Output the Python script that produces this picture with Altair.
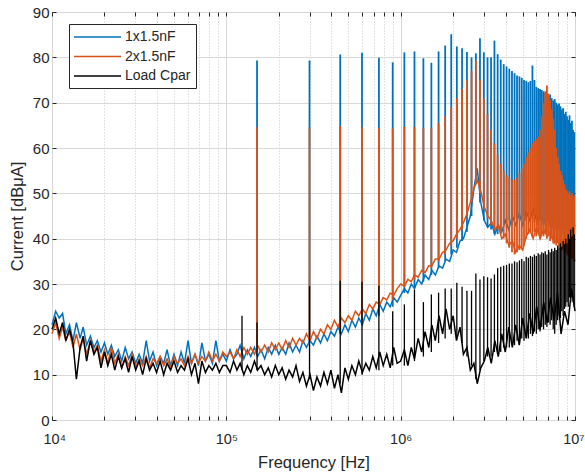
import altair as alt
import pandas as pd

SERIES = ["1x1.5nF", "2x1.5nF", "Load Cpar"]
COLORS = ["#0072BD", "#D95319", "#000000"]

# broadband floor, sampled on a log grid (kHz)
FREQ_KHZ = [10, 10.5, 11, 11.5, 12, 12.6, 13.2, 13.8, 14.5, 15.1,
            15.8, 16.6, 17.4, 18.2, 19.1, 20, 20.9, 21.9, 22.9, 24,
            25.1, 26.3, 27.5, 28.8, 30.2, 31.6, 33.1, 34.7, 36.3, 38,
            39.8, 41.7, 43.7, 45.7, 47.9, 50.1, 52.5, 55, 57.5, 60.3,
            63.1, 66.1, 69.2, 72.4, 75.9, 79.4, 83.2, 87.1, 91.2, 95.5,
            100, 105, 110, 115, 120, 126, 132, 138, 145, 151,
            158, 166, 174, 182, 191, 200, 209, 219, 229, 240,
            251, 263, 275, 288, 302, 316, 331, 347, 363, 380,
            398, 417, 437, 457, 479, 501, 525, 550, 575, 603,
            631, 661, 692, 724, 759, 794, 832, 871, 912, 955,
            1000, 1050, 1100, 1150, 1200, 1260, 1320, 1380, 1450, 1510,
            1580, 1660, 1740, 1820, 1910, 2000, 2090, 2190, 2290, 2400,
            2510, 2630, 2750, 2880, 3020, 3160, 3310, 3470, 3630, 3800,
            3980, 4170, 4370, 4570, 4790, 5010, 5250, 5500, 5750, 6030,
            6310, 6610, 6920, 7240, 7590, 7940, 8320, 8710, 9120, 9550,
            10000]

BLUE = [21, 24, 22.5, 23.5, 19, 21, 17.5, 21.5, 18, 20.5,
        16.5, 18.5, 16, 17.5, 15, 17, 14.5, 16.5, 14, 15.5,
        13, 16, 13.5, 15, 12.5, 14.5, 12.5, 17.5, 13, 15,
        12, 14, 12.5, 15.5, 12, 14.5, 12, 15, 12.5, 17.5,
        12.5, 14.5, 12, 17, 13, 14.5, 12.5, 17.5, 13, 14.5,
        13, 15.5, 13.5, 14.5, 16.5, 13.5, 15.5, 14, 16, 14,
        15.5, 13.5, 16, 14.5, 16.5, 14.5, 16, 14.5, 17, 15,
        16.5, 15, 17.5, 16, 17.5, 16.5, 18.5, 17, 19, 17.5,
        19.5, 18.5, 20.5, 19, 21, 19.5, 22, 20.5, 22.5, 21,
        23.5, 22, 24.5, 23, 25.5, 24, 26, 25, 27, 26,
        27.5, 29, 28, 30, 29, 31, 30, 32, 31, 33,
        32, 34, 33.5, 35.5, 35, 37.5, 37, 39.5, 40, 42.5,
        45, 51, 55.5, 48, 44, 42.5, 43.5, 41, 43, 41.5,
        44, 42, 45, 43, 45.5, 43, 46, 44, 46.5, 44,
        46, 43.5, 45.5, 43, 45, 42.5, 44.5, 42, 44, 41.5,
        43]

ORANGE = [19, 21.5, 18, 20.5, 17.5, 19.5, 16, 19, 15.5, 18,
          14.5, 17.5, 15, 16.5, 13, 15.5, 12.5, 16, 12.5, 14.5,
          11.5, 14, 12, 14.5, 11.5, 13.5, 12, 14, 11.5, 13.5,
          12.5, 14, 12, 13.5, 11.5, 14, 12.5, 13.5, 12, 14,
          12.5, 14.5, 12.5, 14, 13, 15, 13, 14.5, 13, 15,
          14, 15, 13.5, 15.5, 14, 16, 14.5, 16, 14.5, 16.5,
          15, 16.5, 15, 17, 15.5, 17, 15.5, 17.5, 16, 18,
          16.5, 18, 17, 19, 17.5, 19.5, 18, 20, 19, 21,
          20, 22, 20.5, 22.5, 21.5, 23, 22, 24, 23, 24.5,
          23.5, 25.5, 24.5, 26, 25.5, 27, 26.5, 28, 27.5, 29,
          30, 29.5, 31, 30.5, 32, 31.5, 33, 32.5, 34, 34,
          35.5, 35.5, 37, 37.5, 39, 39.5, 41, 42, 43.5, 45.5,
          48, 51, 53, 50.5, 47, 45, 44, 42, 43, 40,
          41, 38.5, 39.5, 37, 38.5, 37.5, 40.5, 42, 40, 42.5,
          40, 42, 40.5, 41.5, 39, 40, 37.5, 38.5, 36.5, 37.5,
          35]

BLACK = [20, 22.5, 19, 21.5, 17.5, 20, 17, 9, 16, 18.5,
         13, 17.5, 14.5, 16, 11.5, 15, 12, 14.5, 11, 14,
         11.5, 13.5, 10.5, 14, 11, 13, 10, 13.5, 11, 12.5,
         10.5, 13, 10, 12.5, 11, 13, 10.5, 12, 11, 13.5,
         10, 12.5, 8, 13, 10.5, 12, 11, 12.5, 10.5, 12,
         12, 10.5, 13, 11, 12.5, 10, 12, 10.5, 13, 11,
         12, 10, 11.5, 9.5, 12, 10, 11.5, 9, 11, 9.5,
         12, 8.5, 10.5, 7.5, 10, 6.5, 9.5, 7.5, 10.5, 8,
         11, 7, 10, 6, 11.5, 9, 12, 10, 13, 10.5,
         12.5, 11, 14, 11.5, 15, 12, 14.5, 11.5, 16, 12.5,
         13, 15.5, 12, 16, 13.5, 18, 15, 19.5, 16, 21,
         17.5, 23, 19, 24.5, 20, 23, 17.5, 20.5, 14.5, 16,
         11, 12.5, 8, 11.5, 13, 16, 12.5, 17.5, 14, 19,
         15, 20.5, 16, 21, 16.5, 22.5, 18, 23.5, 19, 25,
         20, 26, 21.5, 27, 22, 28, 19, 24, 21, 29,
         24]

# switching harmonics (kHz)
HARM_KHZ = [150, 300, 450, 600, 750, 900, 1050, 1200, 1350, 1500,
            1650, 1800, 1950, 2100, 2250, 2400, 2550, 2700, 2850, 3000,
            3150, 3300, 3450, 3600, 3750, 3900, 4050, 4200, 4350, 4500,
            4650, 4800, 4950, 5100, 5250, 5400, 5550, 5700, 5850, 6000,
            6150, 6300, 6450, 6600, 6750, 6900, 7050, 7200, 7350, 7500,
            7650, 7800, 7950, 8100, 8250, 8400, 8550, 8700, 8850, 9000,
            9150, 9300, 9450, 9600, 9750, 9900]

BLUE_PEAK = [79.3, 79.3, 80.6, 81.0, 79.9, 78.9, 81.1, 81.3, 79.8, 78.8,
             81.3, 82.6, 85.1, 82.4, 82.0, 81.2, 80.0, 80.9, 84.2, 81.1,
             80.0, 80.0, 83.7, 80.7, 79.5, 78.5, 78.0, 77.5, 77.0, 76.5,
             76.0, 75.8, 75.5, 75.0, 74.8, 74.5, 74.8, 78.2, 75.0, 73.5,
             73.2, 73.0, 72.8, 72.5, 72.2, 72.0, 71.5, 71.8, 71.0, 70.5,
             70.8, 70.0, 69.6, 69.8, 69.2, 68.5, 68.8, 67.5, 68.0, 67.0,
             66.2, 67.2, 65.5, 66.0, 64.0, 63.5]
BLUE_LO = [15, 17, 19, 21, 23, 25, 28, 29, 30.5, 32,
           33.5, 35, 36.5, 38, 39.5, 41.5, 45, 52, 48, 44,
           42.5, 42, 41, 41, 42, 43, 42.5, 44, 43, 44.5,
           43.5, 45, 44, 45, 44, 45.5, 44, 45, 43.5, 44.5,
           43, 44, 43, 44.5, 43, 44, 42.5, 43.5, 42, 43,
           42, 43.5, 42, 43, 41.5, 42.5, 41, 42, 41.5, 43,
           41, 42, 41, 42.5, 41, 42]

ORANGE_PEAK = [64.6, 64.5, 64.8, 64.6, 64.4, 64.3, 64.7, 64.6, 64.4, 64.5,
               65.5, 67, 69, 71, 73, 75, 77, 79.3, 75, 71,
               67.5, 64, 61, 58.5, 56.5, 55, 54, 53.5, 53, 53,
               53.5, 54.5, 55.5, 56.5, 58, 59, 60, 61, 61.5, 62,
               62.5, 64, 67, 70, 72.5, 73.8, 72, 70.5, 68.5, 66.5,
               64, 60, 58, 56.5, 55, 54, 53, 52, 51, 50.5,
               50, 50.5, 49.5, 50, 49, 49.5]
ORANGE_LO = [15, 17.5, 20, 22.5, 25, 26.5, 29.5, 31, 32.5, 33.5,
             35, 36.5, 38.5, 40, 42, 45, 48, 52, 50, 46.5,
             44.5, 43, 42, 42, 41, 40, 39, 38, 37, 36.5,
             37, 37.5, 38, 38.5, 40, 41, 41.5, 40.5, 41.5, 40.5,
             41, 40, 41, 40.5, 41, 40, 40.5, 39.5, 40, 39,
             39.5, 38.5, 39, 38, 38.5, 37.5, 38, 37, 37.5, 36.5,
             37, 36, 36.5, 35.5, 36, 35]

BLACK_PEAK = [21.5, 29.5, 30.7, 30.5, 29.6, 24, 25.5, 28.8, 26, 27.7,
              28.1, 29, 29, 30.3, 29.4, 28.5, 28.5, 32.3, 31, 31.7,
              31.5, 31.2, 32.1, 33.5, 33.8, 34, 34.2, 34.5, 34.5, 35,
              34.8, 35.2, 35.5, 35, 36, 35.8, 36.2, 36, 36.5, 36.2,
              36.8, 36.5, 37, 36.8, 37.2, 36.5, 37.5, 37, 37.8, 37.2,
              38, 37.5, 38.5, 38, 39, 38.2, 39.5, 38.8, 40, 39,
              41, 40, 42, 40.5, 42.5, 41]
BLACK_LO = [11, 9, 8, 10, 11, 12, 12, 13, 14, 15,
            17, 18, 19, 18, 17, 14, 12, 9, 11, 13,
            14, 14, 15, 15, 15, 16, 16, 16, 17, 16.5,
            17.5, 17, 18, 17.5, 18.5, 18, 19, 18.5, 19.5, 19,
            20, 19.5, 20.5, 20, 21, 20.5, 21.5, 21, 22, 20,
            19, 21, 22, 23, 22.5, 24, 23, 24.5, 25, 26,
            25, 27, 26, 27, 26, 25]

BLACK_EXTRA_KHZ = [123]
BLACK_EXTRA_PEAK = [23]
BLACK_EXTRA_LO = [11]

X_TICKS = [1e4, 2e4, 3e4, 4e4, 5e4, 6e4, 7e4, 8e4, 9e4,
           1e5, 2e5, 3e5, 4e5, 5e5, 6e5, 7e5, 8e5, 9e5,
           1e6, 2e6, 3e6, 4e6, 5e6, 6e6, 7e6, 8e6, 9e6,
           1e7]
Y_TICKS = [0, 10, 20, 30, 40, 50, 60, 70, 80, 90]

FONT = "Liberation Sans"
INK = "#262626"


def line_df(vals, name):
    return pd.DataFrame({"f": [k * 1000 for k in FREQ_KHZ], "v": vals, "s": name})


def rule_df(fk, lo, hi, name):
    return pd.DataFrame({"f": [k * 1000 for k in fk], "lo": lo, "hi": hi, "s": name})


xs = alt.Scale(type="log", domain=[1e4, 1e7], nice=False)
ys = alt.Scale(domain=[0, 90], nice=False)
cs = alt.Scale(domain=SERIES, range=COLORS)

legend = alt.Legend(
    title=None, orient="none", legendX=17, legendY=12, direction="vertical",
    symbolType="M-3.36,0H3.36", symbolSize=196, symbolStrokeWidth=1.5,
    symbolOffset=15.5, labelOffset=19.5,
    labelFont=FONT, labelFontSize=14, labelColor=INK,
    strokeColor=INK, fillColor="white", padding=5, rowPadding=4.5, cornerRadius=0,
)

major_test = ("datum.value == 10000 || datum.value == 100000 || "
              "datum.value == 1000000 || datum.value == 10000000")

ax_x_grid = alt.Axis(
    values=X_TICKS, grid=True, ticks=False, labels=False, domain=False, title=None,
    gridColor={"condition": {"test": major_test, "value": "#d6d6d6"}, "value": "#c4c4c4"},
    gridDash={"condition": {"test": major_test, "value": []}, "value": [1, 2]},
    gridWidth=1,
)
ax_y_grid = alt.Axis(values=Y_TICKS, grid=True, ticks=False, labels=False, domain=False,
                     title=None, gridColor="#d9d9d9", gridWidth=1)

label_expr = ("datum.value == 10000 ? '10\u2074' : datum.value == 100000 ? '10\u2075' : "
              "datum.value == 1000000 ? '10\u2076' : datum.value == 10000000 ? '10\u2077' : ''")

ax_x_lab = alt.Axis(
    orient="bottom", values=X_TICKS, offset=-4, tickSize=4, tickColor=INK,
    domain=False, grid=False, labelExpr=label_expr, labelFont=FONT, labelFontSize=14.5,
    labelColor=INK, labelPadding=12, labelFlush=True, labelFlushOffset=9, labelOverlap=False,
    title="Frequency [Hz]", titleFont=FONT, titleFontSize=16.5, titleFontWeight="normal",
    titleColor=INK, titlePadding=9,
)
ax_y_lab = alt.Axis(
    orient="left", values=Y_TICKS, offset=-4, tickSize=4, tickColor=INK, domain=False,
    grid=False, labelFont=FONT, labelFontSize=15, labelColor=INK, labelPadding=3,
    title="Current [dB\u03bcA]", titleFont=FONT, titleFontSize=16.5, titleFontWeight="normal",
    titleColor=INK, titlePadding=7,
)
ax_x_top = alt.Axis(orient="top", values=X_TICKS, offset=-4, tickSize=4,
                    tickColor=INK, domain=False, grid=False, labels=False, title=None)
ax_y_right = alt.Axis(orient="right", values=Y_TICKS, offset=-4, tickSize=4,
                      tickColor=INK, domain=False, grid=False, labels=False, title=None)


def line_layer(vals, name, xa=None, ya=None):
    return alt.Chart(line_df(vals, name)).mark_line(strokeWidth=1.5).encode(
        x=alt.X("f:Q", scale=xs, axis=xa),
        y=alt.Y("v:Q", scale=ys, axis=ya),
        color=alt.Color("s:N", scale=cs, legend=legend),
    )


def rule_layer(fk, lo, hi, name, width, xa=None, ya=None):
    return alt.Chart(rule_df(fk, lo, hi, name)).mark_rule(strokeWidth=width).encode(
        x=alt.X("f:Q", scale=xs, axis=xa),
        y=alt.Y("lo:Q", scale=ys, axis=ya),
        y2="hi:Q",
        color=alt.Color("s:N", scale=cs, legend=legend),
    )


layers = [
    line_layer(BLUE, SERIES[0], ax_x_grid, ax_y_grid),
    rule_layer(HARM_KHZ, BLUE_LO, BLUE_PEAK, SERIES[0], 1.8, ax_x_lab, ax_y_lab),
    line_layer(ORANGE, SERIES[1], ax_x_top, ax_y_right),
    rule_layer(HARM_KHZ, ORANGE_LO, ORANGE_PEAK, SERIES[1], 1.8),
    line_layer(BLACK, SERIES[2]),
    rule_layer(HARM_KHZ, BLACK_LO, BLACK_PEAK, SERIES[2], 1.3),
    rule_layer(BLACK_EXTRA_KHZ, BLACK_EXTRA_LO, BLACK_EXTRA_PEAK, SERIES[2], 1.3),
]

chart = (
    alt.layer(*layers)
    .resolve_axis(x="independent", y="independent")
    .properties(
        width=523, height=408,
        padding={"left": 52, "top": 12, "right": 10, "bottom": 56},
        autosize=alt.AutoSizeParams(type="none"),
        background="white",
    )
    .configure_view(stroke=INK, strokeWidth=1)
)

chart.save("out.html", embed_options={"renderer": "svg", "actions": False})
